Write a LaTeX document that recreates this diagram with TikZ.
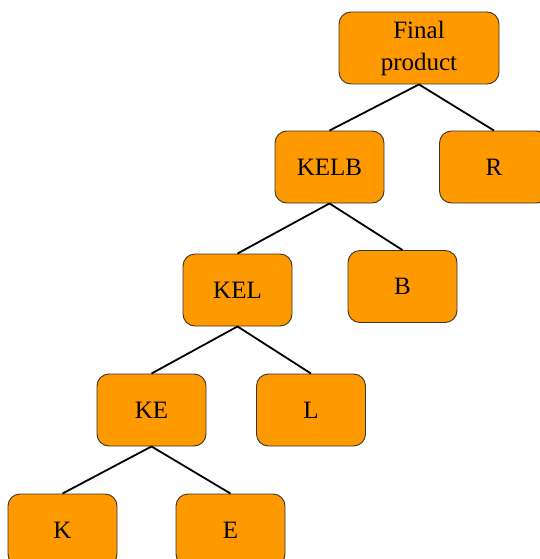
\documentclass[tikz,border=0pt]{standalone}
\usepackage{fontspec}
\setmainfont{Liberation Serif}
\usetikzlibrary{positioning}
\definecolor{carrot}{RGB}{255,153,0}
\definecolor{rim}{RGB}{60,50,40}
\tikzset{
  part/.style={draw=rim,fill=#1,rounded corners=12pt,line width=0.9pt,
    minimum height=72pt,minimum width=109pt,align=center,
    font=\fontsize{25}{32}\selectfont},
  part/.default=carrot,
  link/.style={draw=black,line width=1.8pt},
}
\begin{document}
\begin{tikzpicture}[x=1pt,y=-1pt]
  \useasboundingbox (0,0) rectangle (540,559);
  \node[part,minimum width=160pt] (fp) at (419,48) {Final\\product};
  \node[part] (kelb) at (329.5,167) {KELB};
  \node[part] (r) at (494,167) {R};
  \node[part] (kel) at (237.5,290) {KEL};
  \node[part] (b) at (402.5,286.5) {B};
  \node[part] (ke) at (151.5,410) {KE};
  \node[part] (l) at (311,410) {L};
  \node[part] (k) at (62.5,530) {K};
  \node[part] (e) at (230.5,530) {E};
  % assembly links
  \draw[link] (fp.south) -- (kelb.north);
  \draw[link] (fp.south) -- (r.north);
  \draw[link] (kelb.south) -- (kel.north);
  \draw[link] (kelb.south) -- (b.north);
  \draw[link] (kel.south) -- (ke.north);
  \draw[link] (kel.south) -- (l.north);
  \draw[link] (ke.south) -- (k.north);
  \draw[link] (ke.south) -- (e.north);
\end{tikzpicture}
\end{document}
